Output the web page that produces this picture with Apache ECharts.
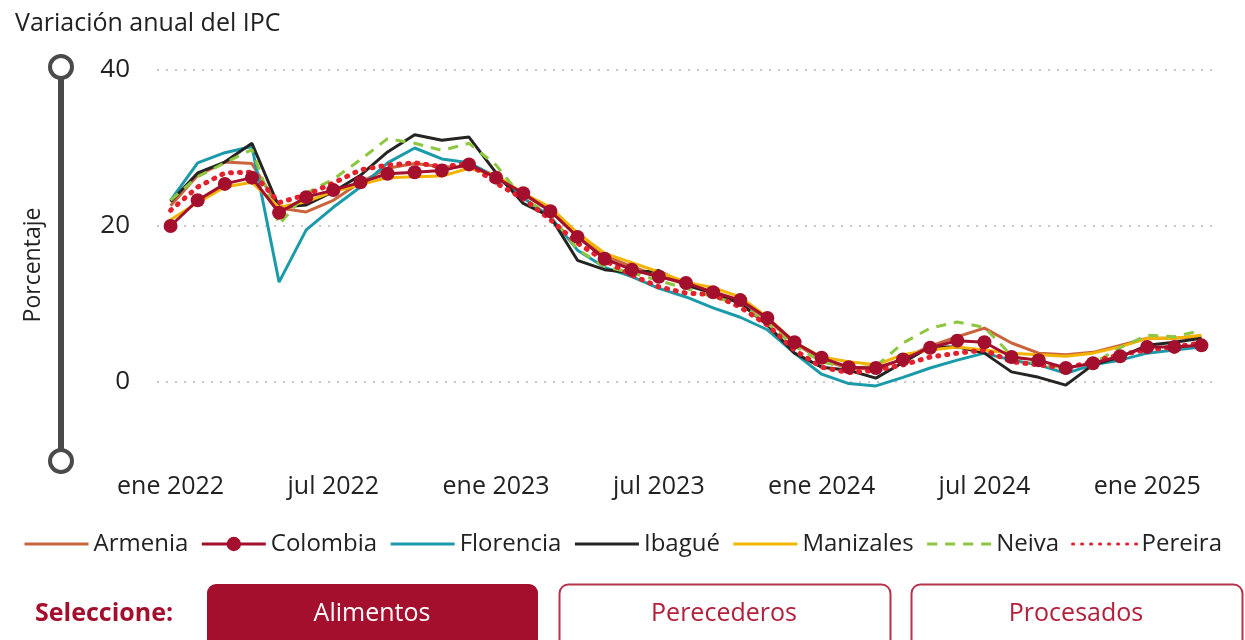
<!DOCTYPE html>
<html>
<head>
<meta charset="utf-8">
<title>Variación anual del IPC</title>
<script src="https://cdn.jsdelivr.net/npm/echarts@6/dist/echarts.min.js"></script>
<style>
    html, body { margin: 0; padding: 0; background: #fff; }
    #chart { width: 1245px; height: 640px; }
</style>
</head>
<body>
<div id="chart"></div>
<script>
// meses y años del eje x
const meses = ['ene', 'feb', 'mar', 'abr', 'may', 'jun', 'jul', 'ago', 'sep', 'oct', 'nov', 'dic'];
const anios = [2022, 2023, 2024, 2025];
const numMeses = 39; // ene 2022 - mar 2025

const yTicks = [0, 20, 40];

// variación anual (%) por ciudad
const armenia   = [22.6, 26.5, 28.2, 28.0, 22.3, 21.8, 23.3, 25.6, 27.4, 28.0, 27.6, 27.6, 26.5, 24.0, 22.0, 18.8, 16.2, 14.8, 13.6, 12.5, 11.6, 10.4, 8.0, 5.0, 2.8, 1.8, 1.6, 3.0, 4.6, 5.8, 6.9, 5.0, 3.7, 3.5, 3.8, 4.7, 5.6, 5.6, 5.8];
const colombia  = [20.0, 23.3, 25.4, 26.2, 21.7, 23.7, 24.6, 25.6, 26.7, 26.9, 27.1, 27.9, 26.2, 24.2, 21.9, 18.6, 15.8, 14.4, 13.5, 12.7, 11.5, 10.5, 8.2, 5.1, 3.1, 1.9, 1.8, 2.9, 4.4, 5.3, 5.1, 3.2, 2.8, 1.8, 2.4, 3.3, 4.5, 4.5, 4.7];
const florencia = [23.3, 28.1, 29.4, 30.2, 12.8, 19.5, 22.4, 25.0, 28.1, 30.0, 28.6, 28.1, 26.3, 23.6, 21.2, 16.9, 14.7, 13.5, 12.0, 10.9, 9.5, 8.3, 6.7, 3.7, 1.0, -0.2, -0.5, 0.6, 1.8, 2.8, 3.7, 2.8, 2.2, 1.1, 2.2, 2.8, 3.7, 4.1, 4.5];
const ibague    = [23.1, 26.8, 28.2, 30.6, 22.4, 22.7, 24.4, 26.5, 29.5, 31.7, 31.0, 31.4, 26.8, 22.9, 21.2, 15.6, 14.4, 14.0, 14.3, 12.4, 11.4, 10.1, 7.3, 3.7, 1.9, 1.5, 0.5, 2.5, 4.5, 4.5, 3.7, 1.3, 0.6, -0.4, 2.2, 3.2, 4.7, 5.1, 5.6];
const manizales = [20.8, 23.0, 25.0, 25.6, 22.4, 23.1, 24.4, 25.3, 26.2, 26.3, 26.4, 27.4, 26.5, 24.2, 22.4, 19.1, 16.5, 15.3, 14.1, 12.8, 12.1, 10.9, 8.3, 5.1, 3.2, 2.6, 2.2, 3.5, 4.1, 4.5, 4.1, 3.7, 3.5, 3.3, 3.7, 4.5, 5.6, 5.6, 6.0];
const neiva     = [23.3, 26.3, 28.1, 29.8, 20.2, 24.2, 26.0, 28.5, 31.2, 30.6, 29.7, 30.6, 27.8, 23.5, 21.5, 17.0, 14.8, 14.0, 13.0, 12.0, 10.9, 10.0, 7.5, 4.6, 2.6, 1.8, 2.0, 5.0, 6.9, 7.7, 7.0, 3.4, 2.2, 1.8, 2.4, 4.4, 6.0, 5.8, 6.6];
const pereira   = [22.0, 25.0, 26.8, 26.9, 23.0, 24.0, 25.5, 27.2, 27.8, 28.1, 27.6, 28.0, 25.5, 23.5, 20.8, 17.8, 15.6, 13.7, 12.2, 11.4, 11.2, 9.6, 7.3, 4.1, 1.9, 1.2, 1.5, 2.2, 3.2, 3.7, 4.1, 2.6, 2.2, 1.8, 2.6, 3.5, 4.1, 4.5, 5.0];

const categorias = [];
for (let i = 0; i < numMeses; i++) {
    categorias.push(meses[i % 12] + ' ' + anios[Math.floor(i / 12)]);
}

const font = "'Open Sans', 'Noto Sans', sans-serif";
const texto = '#222';
const rojo = '#a30f2d';

function linea(name, data, color, lineStyle) {
    return {
        name: name,
        type: 'line',
        data: data,
        symbol: 'none',
        color: color,
        // sin marcador, tampoco en la leyenda
        itemStyle: { color: color, opacity: 0 },
        lineStyle: Object.assign({ width: 3, color: color, opacity: 1 }, lineStyle || {}),
        emphasis: { disabled: true }
    };
}

const series = [
    linea('Armenia', armenia, '#c9643c'),
    {
        name: 'Colombia',
        type: 'line',
        data: colombia,
        symbol: 'circle',
        symbolSize: 14,
        color: rojo,
        itemStyle: { color: rojo },
        lineStyle: { width: 3, color: rojo },
        z: 5,
        emphasis: { disabled: true }
    },
    linea('Florencia', florencia, '#1b9aaa'),
    linea('Ibagué', ibague, '#252423'),
    linea('Manizales', manizales, '#f2b400'),
    linea('Neiva', neiva, '#8dc63f', { type: [10, 8] }),
    linea('Pereira', pereira, '#e3202c', { type: [1, 8], cap: 'round', width: 5 })
];

const chart = echarts.init(document.getElementById('chart'));

const option = {
    animation: false,
    textStyle: { fontFamily: font },
    title: {
        text: 'Variación anual del IPC',
        left: 10,
        top: 6,
        textStyle: { fontFamily: font, fontSize: 25, fontWeight: 'normal', color: texto }
    },
    legend: {
        top: 527,
        left: 'center',
        itemWidth: 64,
        itemHeight: 18,
        itemGap: 12,
        lineStyle: { width: 3 },
        textStyle: { fontFamily: font, fontSize: 24, color: texto },
        data: series.map(s => s.name)
    },
    grid: { left: 157, right: 30, top: 70, bottom: 180 },
    xAxis: {
        type: 'category',
        data: categorias,
        boundaryGap: true,
        axisLine: { show: false },
        axisTick: { show: false },
        axisLabel: {
            interval: 5,
            margin: 14,
            fontSize: 25,
            color: texto,
            fontFamily: font
        }
    },
    yAxis: {
        type: 'value',
        min: -10,
        max: 40,
        interval: 10,
        name: 'Porcentaje',
        nameLocation: 'middle',
        nameGap: 112,
        nameTextStyle: { fontSize: 23, color: texto, fontFamily: font },
        axisLine: { show: false },
        axisTick: { show: false },
        axisLabel: {
            margin: 27,
            fontSize: 26,
            color: texto,
            fontFamily: font,
            formatter: v => yTicks.indexOf(v) >= 0 ? String(v) : ''
        },
        splitLine: {
            show: true,
            lineStyle: { color: ['rgba(0,0,0,0)', '#c8c8c8'], width: 2, type: [2, 7] }
        }
    },
    graphic: [
        // control deslizante vertical de la izquierda
        { type: 'line', shape: { x1: 61, y1: 67, x2: 61, y2: 461 }, style: { stroke: '#4a4a4a', lineWidth: 6 }, z: 1 },
        { type: 'circle', shape: { cx: 61, cy: 67, r: 11 }, style: { fill: '#fff', stroke: '#4a4a4a', lineWidth: 4 }, z: 2 },
        { type: 'circle', shape: { cx: 61, cy: 461, r: 11 }, style: { fill: '#fff', stroke: '#4a4a4a', lineWidth: 4 }, z: 2 },
        // selector
        {
            type: 'text', x: 35, y: 614,
            style: { text: 'Seleccione:', fill: rojo, font: "bold 25px 'Open Sans', sans-serif", verticalAlign: 'middle' }
        },
        {
            type: 'rect', shape: { x: 207, y: 584, width: 331, height: 80, r: 9 },
            style: { fill: rojo }
        },
        {
            type: 'text', x: 372, y: 614,
            style: { text: 'Alimentos', fill: '#fff', font: "25px 'Open Sans', sans-serif", align: 'center', verticalAlign: 'middle' }
        },
        {
            type: 'rect', shape: { x: 559.5, y: 584.5, width: 331, height: 80, r: 9 },
            style: { fill: '#fff', stroke: '#b3344b', lineWidth: 2 }
        },
        {
            type: 'text', x: 724, y: 614,
            style: { text: 'Perecederos', fill: '#b3203b', font: "25px 'Open Sans', sans-serif", align: 'center', verticalAlign: 'middle' }
        },
        {
            type: 'rect', shape: { x: 911.5, y: 584.5, width: 331, height: 80, r: 9 },
            style: { fill: '#fff', stroke: '#b3344b', lineWidth: 2 }
        },
        {
            type: 'text', x: 1076, y: 614,
            style: { text: 'Procesados', fill: '#b3203b', font: "25px 'Open Sans', sans-serif", align: 'center', verticalAlign: 'middle' }
        }
    ],
    series: series
};

chart.setOption(option);
</script>
</body>
</html>
